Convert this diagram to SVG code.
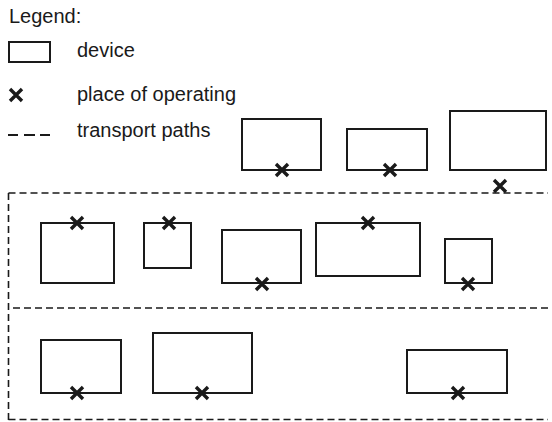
<svg xmlns="http://www.w3.org/2000/svg" width="552" height="422" viewBox="0 0 552 422">
  <style>
    .label { font-family: "Liberation Sans", Arial, sans-serif; font-size: 20px; fill: #1a1a1a; }
    .device { fill: #ffffff; stroke: #1a1a1a; stroke-width: 2; }
    .op { fill: none; stroke: #1a1a1a; stroke-width: 3.4; stroke-linecap: butt; }
    .path { fill: none; stroke: #1a1a1a; stroke-width: 1.6; stroke-dasharray: 7 4; }
  </style>
  <defs>
    <!-- place of operating marker, centred on 0,0 -->
    <g id="op">
      <path class="op" d="M-6,-6 L6,6 M6,-6 L-6,6"/>
    </g>
  </defs>

  <rect width="552" height="422" fill="#ffffff"/>

  <!-- legend -->
  <g id="legend">
    <text class="label" x="9" y="23">Legend:</text>
    <rect class="device" x="9" y="42" width="41" height="20"/>
    <text class="label" x="77" y="57">device</text>
    <use href="#op" x="16" y="95"/>
    <text class="label" x="77" y="101">place of operating</text>
    <path d="M8,135 H18 M24,135 H35 M40,135 H50" fill="none" stroke="#1a1a1a" stroke-width="2.2"/>
    <text class="label" x="77" y="137">transport paths</text>
  </g>

  <!-- transport paths -->
  <g id="connectors">
    <path class="path" d="M8.5,193 H548" stroke-width="2"/>
    <path class="path" d="M8.5,193 V420" stroke-width="1.8"/>
    <path class="path" d="M13,308 H548"/>
    <path class="path" d="M8.5,419.5 H548"/>
  </g>

  <!-- devices above the hall -->
  <g id="dev-top-1">
    <rect class="device" x="242" y="119" width="79" height="51"/>
    <use href="#op" x="282" y="170"/>
  </g>
  <g id="dev-top-2">
    <rect class="device" x="347" y="129" width="80" height="41"/>
    <use href="#op" x="390" y="170"/>
  </g>
  <g id="dev-top-3">
    <rect class="device" x="450" y="111" width="96" height="59"/>
    <use href="#op" x="500" y="186"/>
  </g>

  <!-- middle row -->
  <g id="dev-mid-1">
    <rect class="device" x="41" y="223" width="73" height="60"/>
    <use href="#op" x="77" y="223"/>
  </g>
  <g id="dev-mid-2">
    <rect class="device" x="144" y="223" width="47" height="45"/>
    <use href="#op" x="169" y="223"/>
  </g>
  <g id="dev-mid-3">
    <rect class="device" x="222" y="230" width="79" height="53"/>
    <use href="#op" x="262" y="284"/>
  </g>
  <g id="dev-mid-4">
    <rect class="device" x="316" y="223" width="104" height="53"/>
    <use href="#op" x="368" y="223"/>
  </g>
  <g id="dev-mid-5">
    <rect class="device" x="445" y="239" width="47" height="44"/>
    <use href="#op" x="468" y="284"/>
  </g>

  <!-- bottom row -->
  <g id="dev-bot-1">
    <rect class="device" x="41" y="340" width="80" height="53"/>
    <use href="#op" x="77" y="393"/>
  </g>
  <g id="dev-bot-2">
    <rect class="device" x="153" y="333" width="99" height="60"/>
    <use href="#op" x="202" y="393"/>
  </g>
  <g id="dev-bot-3">
    <rect class="device" x="407" y="350" width="100" height="43"/>
    <use href="#op" x="458" y="393"/>
  </g>
</svg>
